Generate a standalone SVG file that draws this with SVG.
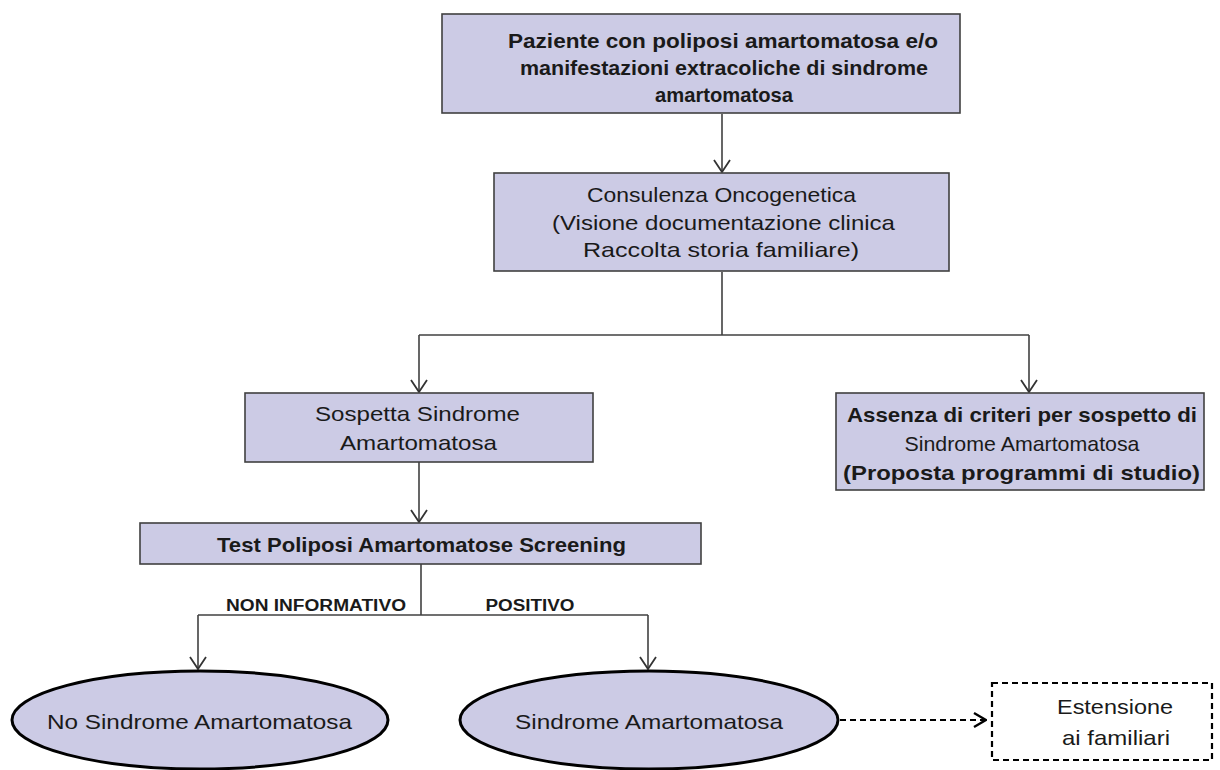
<svg xmlns="http://www.w3.org/2000/svg" width="1220" height="770" viewBox="0 0 1220 770">
<style>
.box{fill:#cccbe5;stroke:#404040;stroke-width:1.6}
.ell{fill:#cccbe5;stroke:#000;stroke-width:3}
.t{font-family:"Liberation Sans","DejaVu Sans",sans-serif;font-size:21px;fill:#1a1a1a;text-anchor:middle}
.b{font-weight:bold}
.lab{font-family:"Liberation Sans","DejaVu Sans",sans-serif;font-size:16px;font-weight:bold;fill:#1a1a1a;text-anchor:middle}
.c{fill:none;stroke:#404040;stroke-width:1.6}
.d{fill:none;stroke:#000;stroke-width:2.2;stroke-dasharray:6,4}
</style>
<defs>
<marker id="arr" viewBox="0 0 14 18" refX="13" refY="9" markerWidth="14" markerHeight="18" orient="auto" markerUnits="userSpaceOnUse">
<path d="M1,1 L13,9 L1,17" fill="none" stroke="#333" stroke-width="1.8"/>
</marker>
<marker id="arrd" viewBox="0 0 14 18" refX="13" refY="9" markerWidth="14" markerHeight="18" orient="auto" markerUnits="userSpaceOnUse">
<path d="M1,2 L13,9 L1,16" fill="none" stroke="#000" stroke-width="2.4"/>
</marker>
</defs>
<g id="connectors">
<line class="c" x1="722" y1="114" x2="722" y2="172" marker-end="url(#arr)"/>
<polyline class="c" points="722,272 722,335"/>
<polyline class="c" points="419,335 1029,335"/>
<line class="c" x1="419" y1="335" x2="419" y2="392" marker-end="url(#arr)"/>
<line class="c" x1="1029" y1="335" x2="1029" y2="392" marker-end="url(#arr)"/>
<line class="c" x1="419" y1="462" x2="419" y2="522" marker-end="url(#arr)"/>
<line class="c" x1="421" y1="564" x2="421" y2="615"/>
<polyline class="c" points="198,615 648,615"/>
<line class="c" x1="198" y1="615" x2="198" y2="669" marker-end="url(#arr)"/>
<line class="c" x1="648" y1="615" x2="648" y2="669" marker-end="url(#arr)"/>
<line class="d" x1="840" y1="720" x2="986" y2="720" marker-end="url(#arrd)"/>
<text class="lab" x="316" y="611" textLength="180" lengthAdjust="spacingAndGlyphs">NON INFORMATIVO</text>
<text class="lab" x="530" y="611" textLength="89" lengthAdjust="spacingAndGlyphs">POSITIVO</text>
</g>
<g id="n1">
<rect class="box" x="442" y="14" width="518" height="99"/>
<text class="t b" x="723" y="48" textLength="430" lengthAdjust="spacingAndGlyphs">Paziente con poliposi amartomatosa e/o</text>
<text class="t b" x="724" y="75" textLength="408" lengthAdjust="spacingAndGlyphs">manifestazioni extracoliche di sindrome</text>
<text class="t b" x="724" y="102" textLength="138" lengthAdjust="spacingAndGlyphs">amartomatosa</text>
</g>
<g id="n2">
<rect class="box" x="494" y="173" width="455" height="98"/>
<text class="t" x="721.5" y="202" textLength="269" lengthAdjust="spacingAndGlyphs">Consulenza Oncogenetica</text>
<text class="t" x="723.5" y="230" textLength="343" lengthAdjust="spacingAndGlyphs">(Visione documentazione clinica</text>
<text class="t" x="721" y="257" textLength="276" lengthAdjust="spacingAndGlyphs">Raccolta storia familiare)</text>
</g>
<g id="n3">
<rect class="box" x="245" y="393" width="348" height="69"/>
<text class="t" x="417.5" y="421" textLength="205" lengthAdjust="spacingAndGlyphs">Sospetta Sindrome</text>
<text class="t" x="418.5" y="450" textLength="157" lengthAdjust="spacingAndGlyphs">Amartomatosa</text>
</g>
<g id="n4">
<rect class="box" x="836" y="393" width="368" height="97"/>
<text class="t b" x="1022" y="422" textLength="350" lengthAdjust="spacingAndGlyphs">Assenza di criteri per sospetto di</text>
<text class="t" x="1022" y="451" textLength="235" lengthAdjust="spacingAndGlyphs">Sindrome Amartomatosa</text>
<text class="t b" x="1021.5" y="480" textLength="357" lengthAdjust="spacingAndGlyphs">(Proposta programmi di  studio)</text>
</g>
<g id="n5">
<rect class="box" x="140" y="523" width="561" height="41"/>
<text class="t b" x="421.5" y="552" textLength="409" lengthAdjust="spacingAndGlyphs">Test Poliposi Amartomatose Screening</text>
</g>
<g id="n6">
<ellipse class="ell" cx="200" cy="720" rx="188" ry="49"/>
<text class="t" x="199.5" y="729" textLength="305" lengthAdjust="spacingAndGlyphs">No Sindrome Amartomatosa</text>
</g>
<g id="n7">
<ellipse class="ell" cx="649" cy="720" rx="189" ry="49"/>
<text class="t" x="649" y="729" textLength="268" lengthAdjust="spacingAndGlyphs">Sindrome Amartomatosa</text>
</g>
<g id="n8">
<rect class="d" x="992" y="683" width="220" height="77"/>
<text class="t" x="1115" y="714" textLength="116" lengthAdjust="spacingAndGlyphs">Estensione</text>
<text class="t" x="1116" y="745" textLength="108" lengthAdjust="spacingAndGlyphs">ai familiari</text>
</g>
</svg>
